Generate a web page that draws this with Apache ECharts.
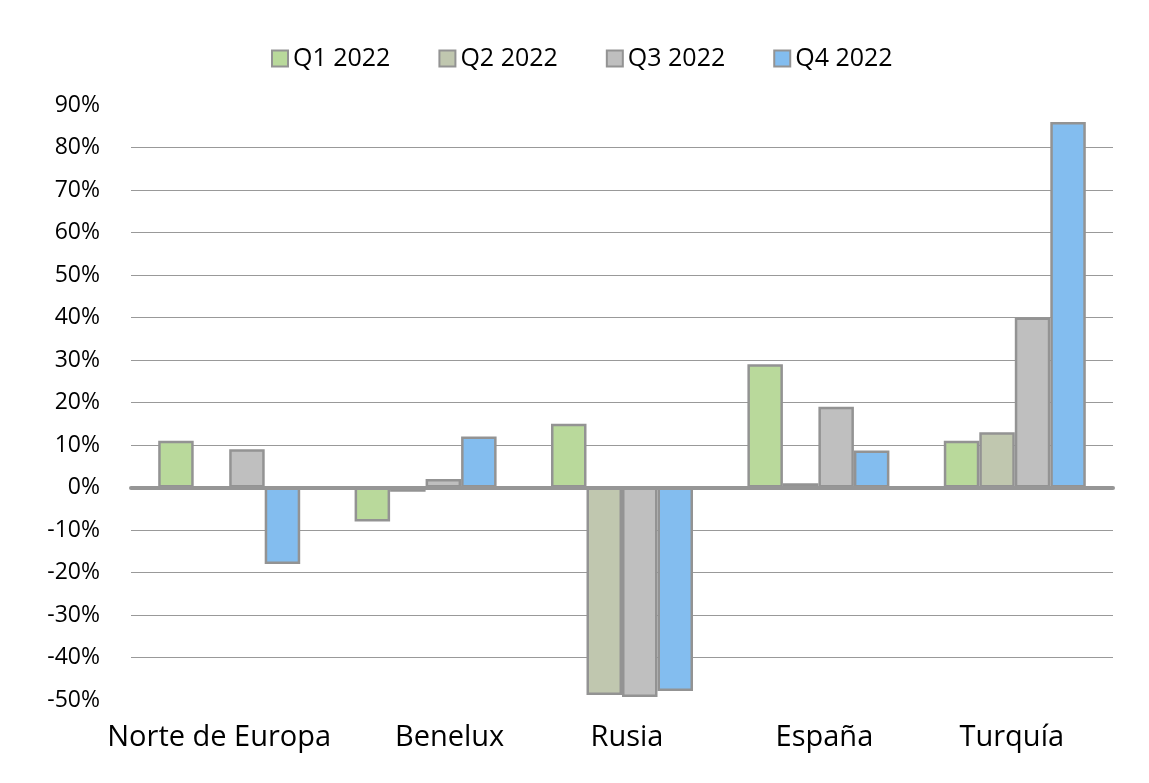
<!DOCTYPE html>
<html>
<head>
<meta charset="utf-8">
<script src="https://cdn.jsdelivr.net/npm/echarts@6/dist/echarts.min.js"></script>
<style>html,body{margin:0;padding:0;background:#fff;}#c{width:1149px;height:783px;}</style>
</head>
<body>
<div id="c"></div>
<script>
const categories = ['Norte de Europa', 'Benelux', 'Rusia', 'España', 'Turquía'];
const seriesNames = ['Q1 2022', 'Q2 2022', 'Q3 2022', 'Q4 2022'];
const q1 = [11, -8, 15, 29, 11];
const q2 = [0, -1, -48.8, 1, 13];
const q3 = [9, 2, -49.3, 19, 40];
const q4 = [-18, 12, -47.9, 8.7, 86];
const colors = ['#B9D99B', '#C0C7AF', '#BFBFBF', '#83BDEF'];
const yMin = -50, yMax = 90, yStep = 10;

const font = '"Open Sans", "Noto Sans", sans-serif';
const chart = echarts.init(document.getElementById('c'), null, {renderer: 'canvas'});
const gridColors = [];
for (let v = yMin; v <= yMax; v += yStep) {
  gridColors.push((v === yMin || v === yMax || v === 0) ? 'rgba(0,0,0,0)' : '#999999');
}
// horizontal nudges of category labels (px), as in the original layout
const labelShift = [-10, 24, 5, 6, -3];
const rich = {};
labelShift.forEach((s, i) => {
  rich['c' + i] = {
    fontSize: 29, color: '#000', fontFamily: font,
    padding: s >= 0 ? [0, 0, 0, 2 * s] : [0, -2 * s, 0, 0]
  };
});
const allData = [q1, q2, q3, q4];
chart.setOption({
  animation: false,
  textStyle: {fontFamily: font},
  legend: {
    top: 41,
    left: 266,
    icon: 'rect',
    itemWidth: 16,
    itemHeight: 16,
    itemGap: 48,
    textStyle: {fontSize: 25, color: '#000', fontFamily: font},
    data: seriesNames
  },
  grid: {left: 131, right: 36, top: 105, bottom: 83, containLabel: false},
  xAxis: [
    {
      type: 'category', data: categories,
      axisLine: {show: true, onZero: true, lineStyle: {color: '#969696', width: 4}},
      axisTick: {show: false}, axisLabel: {show: false}, splitLine: {show: false}, z: 5
    },
    {
      type: 'category', data: categories, position: 'bottom',
      axisLine: {show: false, onZero: false}, axisTick: {show: false},
      axisLabel: {
        show: true, interval: 0, margin: 23,
        formatter: (v, i) => '{c' + i + '|' + v + '}',
        rich: rich
      }
    }
  ],
  yAxis: {
    type: 'value', min: yMin, max: yMax, interval: yStep,
    axisLine: {show: false}, axisTick: {show: false},
    axisLabel: {formatter: '{value}%', fontSize: 23, color: '#000', margin: 31, fontFamily: font},
    splitLine: {show: true, lineStyle: {color: gridColors, width: 1.2}}
  },
  series: seriesNames.map((n, i) => ({
    name: n, type: 'bar', xAxisIndex: 0, data: allData[i],
    barWidth: 35.5, barGap: '0%',
    itemStyle: {color: colors[i], borderColor: '#939393', borderWidth: 2.5}
  }))
});
</script>
</body>
</html>
